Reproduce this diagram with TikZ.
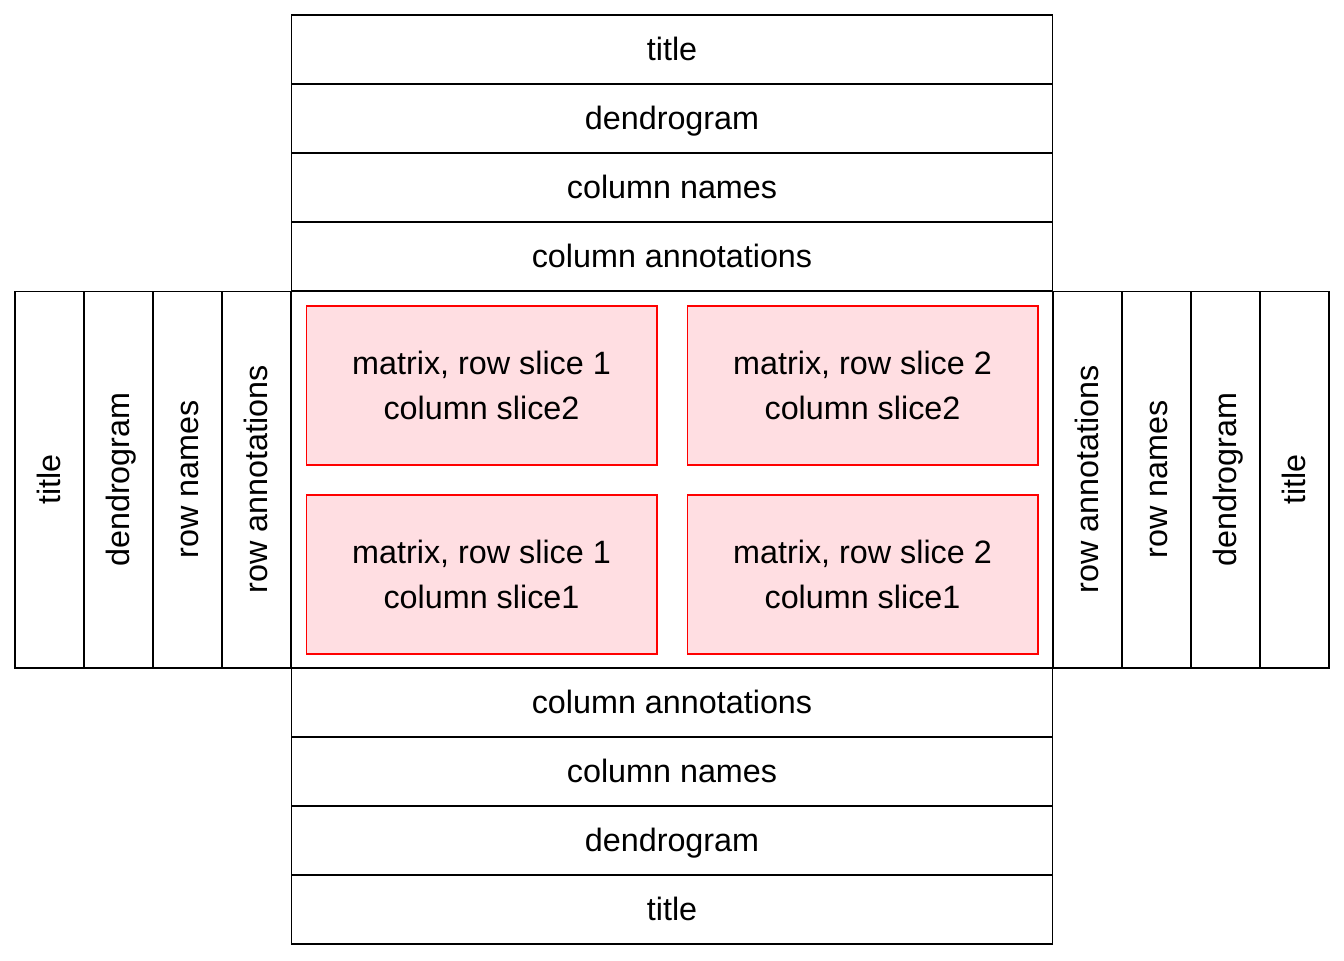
\documentclass[tikz,border=0pt]{standalone}
\usepackage{fontspec}
\setmainfont{Liberation Sans}
\usepackage{xcolor}
\usepackage{tikz}
\usetikzlibrary{positioning}

\definecolor{slicefill}{RGB}{255,222,226}

\begin{document}
\begin{tikzpicture}[
    x=0.02cm, y=-0.02cm,
    hband/.style={rectangle, draw, line width=0.6pt, minimum width=15.24cm, minimum height=1.38cm, inner sep=0pt, text height=16.5pt, text depth=4pt, font=\fontsize{18.4}{22}\selectfont},
    vband/.style={rectangle, draw, line width=0.6pt, minimum width=7.54cm, minimum height=1.38cm, inner sep=0pt, rotate=90, text height=16.5pt, text depth=4pt, font=\fontsize{18.4}{22}\selectfont},
    slice/.style={rectangle, draw=red, fill=slicefill, line width=0.6pt, minimum width=7.02cm, minimum height=3.18cm, inner sep=0pt, align=center, font=\fontsize{18.4}{26}\selectfont}
]
\useasboundingbox (0,0) rectangle (1344,960);

% top components
\node[hband] (ttitle) at (672, 49.5) {title};
\node[hband] (tdend) at (672, 118.5) {dendrogram};
\node[hband] (tnames) at (672, 187.5) {column names};
\node[hband] (tanno) at (672, 256.5) {column annotations};

% left components
\node[vband] (ltitle) at (49.5, 479.5) {title};
\node[vband] (ldend) at (118.5, 479.5) {dendrogram};
\node[vband] (lnames) at (187.5, 479.5) {row names};
\node[vband] (lanno) at (256.5, 479.5) {row annotations};

% heatmap body
\node[rectangle, draw, line width=0.6pt, minimum width=15.24cm, minimum height=7.54cm, inner sep=0pt] (body) at (672, 479.5) {};
\node[slice] (s12) at (481.5, 385.5) {matrix, row slice 1\\column slice2};
\node[slice] (s22) at (862.5, 385.5) {matrix, row slice 2\\column slice2};
\node[slice] (s11) at (481.5, 574.5) {matrix, row slice 1\\column slice1};
\node[slice] (s21) at (862.5, 574.5) {matrix, row slice 2\\column slice1};

% right components
\node[vband] (ranno) at (1087.5, 479.5) {row annotations};
\node[vband] (rnames) at (1156.5, 479.5) {row names};
\node[vband] (rdend) at (1225.5, 479.5) {dendrogram};
\node[vband] (rtitle) at (1294.5, 479.5) {title};

% bottom components
\node[hband] (banno) at (672, 702.5) {column annotations};
\node[hband] (bnames) at (672, 771.5) {column names};
\node[hband] (bdend) at (672, 840.5) {dendrogram};
\node[hband] (btitle) at (672, 909.5) {title};

\end{tikzpicture}
\end{document}
